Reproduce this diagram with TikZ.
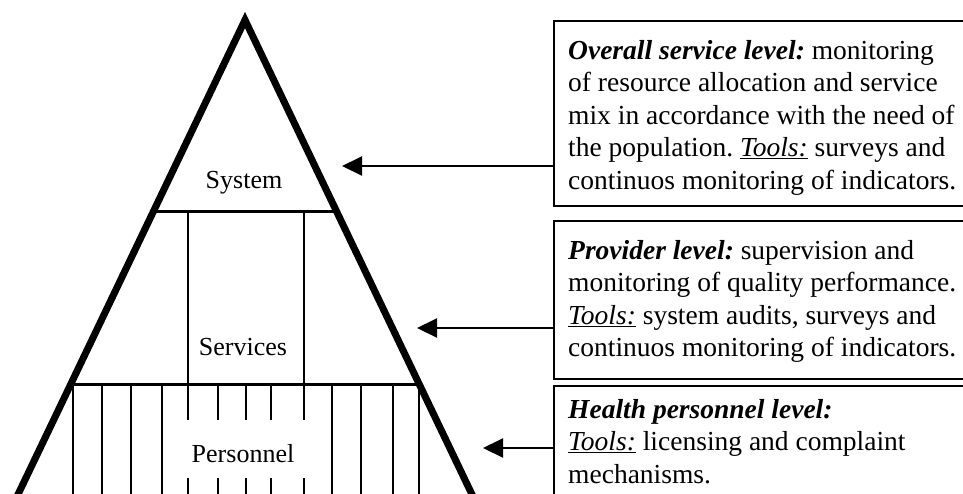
\documentclass[tikz,border=0pt]{standalone}
\usepackage{fontspec}
\setmainfont{Liberation Serif}
\usetikzlibrary{arrows.meta}
\frenchspacing

\begin{document}
\begin{tikzpicture}[x=1pt,y=-1pt,
  level/.style={anchor=base,inner sep=0pt,font=\fontsize{26}{30}\selectfont},
  note/.style={anchor=base west,inner sep=0pt,align=flush left,text width=430pt,
    font=\fontsize{27.5}{32.5}\selectfont},
  frame/.style={draw,line width=2pt,anchor=north west,minimum width=440pt,inner sep=0pt},
  hatch/.style={line width=1.5pt},
  pointer/.style={line width=2pt,-{Triangle[length=20pt,width=19pt]}}]
\clip (0,0) rectangle (963,493);
\begin{scope}
  % dividers between the levels
  \draw[line width=3pt] (150,211) -- (340,211);
  \draw[line width=3pt] (68,384) -- (422,384);
  % middle level
  \draw[hatch] (188,211) -- (188,384);
  \draw[hatch] (304,211) -- (304,384);
  % bottom level
  \foreach \x in {73,102,131,162,332,361,393,419}
    \draw[hatch] (\x,384) -- (\x,500);
  \foreach \x in {188,218,246,271,304} {
    \draw[hatch] (\x,384) -- (\x,420);
    \draw[hatch] (\x,478) -- (\x,500);
  }
  % outline
  \draw[line width=7pt] (12,507) -- (245,20) -- (478,507);
  \node[level] (system) at (244,188) {System};
  \node[level] (services) at (243,355) {Services};
  \node[level] (personnel) at (243,462) {Personnel};
\end{scope}

\node[frame,minimum height=185pt] (overall) at (553,20) {};
\node[frame,minimum height=158pt] (provider) at (553,220) {};
\node[frame,minimum height=130pt] (staff) at (553,385) {};

\node[note] (overalltext) at (568,59) {\textbf{\textit{Overall service level:}} monitoring\\
  of resource allocation and service\\
  mix in accordance with the need of\\
  the population. \underline{\textit{Tools:}} surveys and\\
  continuos monitoring of indicators.};
\node[note] (providertext) at (568,259) {\textbf{\textit{Provider level:}} supervision and\\
  monitoring of quality performance.\\
  \underline{\textit{Tools:}} system audits, surveys and\\
  continuos monitoring of indicators.};
\node[note] (stafftext) at (568,418) {\textbf{\textit{Health personnel level:}}\\
  \underline{\textit{Tools:}} licensing and complaint\\
  mechanisms.};

\coordinate (tip1) at (342,166);
\coordinate (tip2) at (417,328);
\coordinate (tip3) at (483,448);
\draw[pointer] (overall.west |- tip1) -- (tip1);
\draw[pointer] (provider.west |- tip2) -- (tip2);
\draw[pointer] (staff.west |- tip3) -- (tip3);
\end{tikzpicture}
\end{document}
